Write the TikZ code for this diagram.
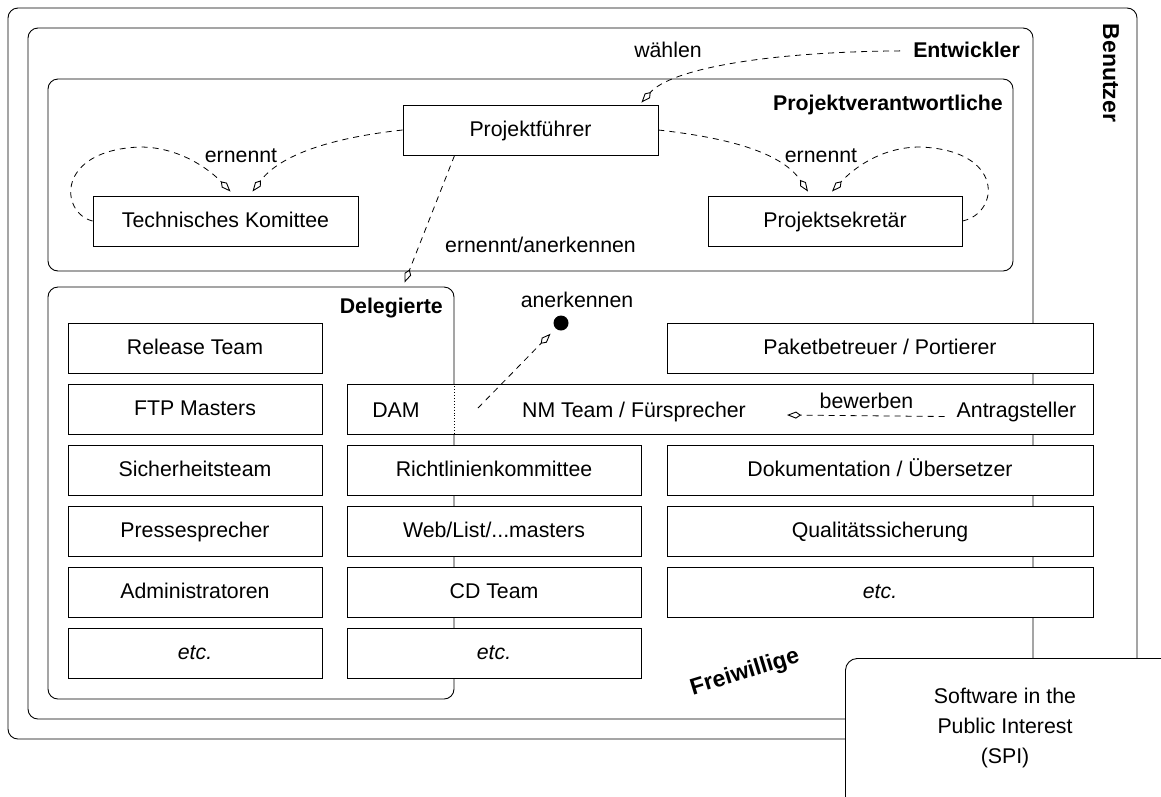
\documentclass[tikz,border=0pt]{standalone}
\usepackage{fontspec}
\setmainfont{Liberation Sans}
\usetikzlibrary{arrows.meta,calc}
\newcommand{\fsz}{\fontsize{21.3}{30}\selectfont}
\newcommand{\fbig}{\fontsize{23}{30}\selectfont}
\begin{document}
\begin{tikzpicture}[x=1pt,y=-1pt,
  every node/.style={font=\fsz},
  container/.style={draw, rectangle, rounded corners=10pt, line width=0.9pt, inner sep=0pt},
  unitbox/.style={draw, fill=white, line width=0.9pt, rectangle, minimum height=50pt, inner sep=0pt, text height=15pt, text depth=3pt},
  title/.style={font=\fsz\bfseries, inner sep=0pt, anchor=base east},
  lbl/.style={inner sep=0pt, anchor=base},
  rel/.style={dash pattern=on 6pt off 5pt, line width=0.8pt, -{Kite[open,length=14pt,width=7pt,inset=5pt,line width=0.9pt]}},
]
\useasboundingbox (0,0) rectangle (1161,796);

% containers
\node[container, minimum width=1129pt, minimum height=731pt] (benutzer) at (572.5,373.5) {};
\node[container, minimum width=1005pt, minimum height=691pt] (entwickler) at (530.5,373.5) {};
\node[container, minimum width=965pt, minimum height=192pt] (pv) at (530.5,175) {};
\node[container, minimum width=406pt, minimum height=412pt] (del) at (251,493) {};

% titles
\node[title] (entw) at (1020,57.5) {Entwickler};
\node[title] (pvt) at (1003,110.5) {Projektverantwortliche};
\node[title] (delt) at (443,313) {Delegierte};
\node[font=\fbig\bfseries, inner sep=0pt, rotate=-90] (benut) at (1111,73) {Benutzer};
\node[font=\fbig\bfseries, inner sep=0pt, rotate=17] (freiw) at (745,673) {Freiwillige};

% project leadership
\node[unitbox, minimum width=255pt] (pf) at (530.5,130) {Projektführer};
\node[unitbox, minimum width=265pt] (tk) at (225.5,221) {Technisches Komittee};
\node[unitbox, minimum width=254pt] (ps) at (835,221) {Projektsekretär};

% left column
\node[unitbox, minimum width=254pt] (rt) at (195,348) {Release Team};
\node[unitbox, minimum width=254pt] (ftp) at (195,409) {FTP Masters};
\node[unitbox, minimum width=254pt] (sich) at (195,470) {Sicherheitsteam};
\node[unitbox, minimum width=254pt] (presse) at (195,531) {Pressesprecher};
\node[unitbox, minimum width=254pt] (admin) at (195,592) {Administratoren};
\node[unitbox, minimum width=254pt] (etca) at (195,653) {\itshape etc.};

% middle column
\node[unitbox, minimum width=294pt] (richt) at (494,470) {Richtlinienkommittee};
\node[unitbox, minimum width=294pt] (web) at (494,531) {Web/List/...masters};
\node[unitbox, minimum width=294pt] (cd) at (494,592) {CD Team};
\node[unitbox, minimum width=294pt] (etcb) at (494,653) {\itshape etc.};

% right column
\node[unitbox, minimum width=426pt] (paket) at (880,348) {Paketbetreuer / Portierer};
\node[unitbox, minimum width=426pt] (doku) at (880,470) {Dokumentation / Übersetzer};
\node[unitbox, minimum width=426pt] (quali) at (880,531) {Qualitätssicherung};
\node[unitbox, minimum width=426pt] (etcc) at (880,592) {\itshape etc.};

% NM box
\node[unitbox, minimum width=746pt] (nm) at (720,409) {};
\draw[dotted, line width=0.9pt] (nm.north west -| del.east) -- (nm.south west -| del.east);
\node[lbl] (dam) at (396,417) {DAM};
\node[lbl] (nmt) at (634,417) {NM Team / Fürsprecher};
\node[lbl] (antr) at (1016.5,417) {Antragsteller};

% labels
\node[lbl] (waehlen) at (668,57.5) {wählen};
\node[lbl] (ernl) at (241,162) {ernennt};
\node[lbl] (ernr) at (821,162) {ernennt};
\node[lbl] (erna) at (540.5,252) {ernennt/anerkennen};
\node[lbl] (anerk) at (577,307) {anerkennen};
\node[lbl] (bew) at (866.5,408) {bewerben};
\node[circle, fill=black, minimum size=15pt, inner sep=0pt] (dot) at (561,323) {};

% connectors
\draw[rel] ($(entw.west)+(-13,1)$) .. controls (760,52) and (670,70) .. ($(pf.north east)+(-17,-2)$);
\draw[rel] (pf.west) .. controls (330,138) and (280,155) .. ($(tk.north)+(27,-4)$);
\draw[rel] (tk.west) .. controls (60,213) and (55,150) .. (140,147) .. controls (180,147) and (210,170) .. ($(tk.north)+(5,-4)$);
\draw[rel] (pf.east) .. controls (720,137) and (780,150) .. ($(ps.north)+(-27,-4)$);
\draw[rel] (ps.east) .. controls (1000,213) and (1005,150) .. (920,147) .. controls (880,147) and (852,170) .. ($(ps.north)+(-3,-4)$);
\draw[rel] ($(pf.south west)+(52,0)$) -- ($(del.north west)+(357,-4)$);
\coordinate (damsrc) at (478,408);
\draw[rel] (damsrc) -- ($(dot)!15pt!(damsrc)$);
\coordinate (bewend) at (787,415);
\draw[rel] ($(antr.west)+(-12,5)$) -- (bewend);

% SPI
\node[draw, fill=white, rounded corners=12pt, line width=0.9pt, minimum width=330pt, minimum height=150pt, anchor=north west, inner sep=0pt] (spi) at (845,658) {};
\node[align=center, inner sep=0pt] (spit) at (1005,728) {Software in the\\Public Interest\\(SPI)};
\end{tikzpicture}
\end{document}
